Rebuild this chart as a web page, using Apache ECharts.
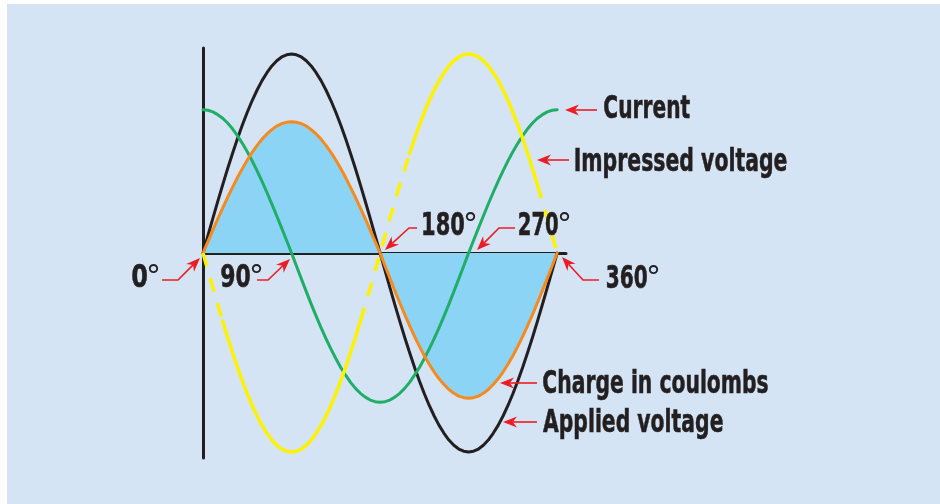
<!DOCTYPE html>
<html><head><meta charset="utf-8">
<script src="https://cdn.jsdelivr.net/npm/echarts@6/dist/echarts.min.js"></script>
<style>html,body{margin:0;padding:0;background:#fff}#c{width:940px;height:504px}</style>
</head><body><div id="c"></div>
<script>
const degrees = Array.from({length:73}, (_, i) => i*5);
const appliedVoltage = [0,.087,.174,.259,.342,.423,.5,.574,.643,.707,.766,.819,.866,.906,.94,.966,.985,.996,1,
  .996,.985,.966,.94,.906,.866,.819,.766,.707,.643,.574,.5,.423,.342,.259,.174,.087,0,
  -.087,-.174,-.259,-.342,-.423,-.5,-.574,-.643,-.707,-.766,-.819,-.866,-.906,-.94,-.966,-.985,-.996,-1,
  -.996,-.985,-.966,-.94,-.906,-.866,-.819,-.766,-.707,-.643,-.574,-.5,-.423,-.342,-.259,-.174,-.087,0];
const chargeCoulombs = [0,.057,.115,.171,.226,.279,.33,.379,.424,.467,.506,.541,.572,.598,.62,.638,.65,.657,.66,
  .657,.65,.638,.62,.598,.572,.541,.506,.467,.424,.379,.33,.279,.226,.171,.115,.057,0,
  -.064,-.127,-.189,-.25,-.309,-.365,-.419,-.469,-.516,-.559,-.598,-.632,-.661,-.686,-.705,-.719,-.727,-.73,
  -.727,-.719,-.705,-.686,-.661,-.632,-.598,-.559,-.516,-.469,-.419,-.365,-.309,-.25,-.189,-.127,-.064,0];
const current = [.72,.717,.709,.695,.677,.653,.624,.59,.551,.509,.463,.413,.36,.304,.246,.186,.125,.063,0,
  -.065,-.13,-.194,-.257,-.317,-.375,-.43,-.482,-.53,-.575,-.614,-.65,-.68,-.705,-.724,-.739,-.747,-.75,
  -.747,-.739,-.724,-.705,-.68,-.65,-.614,-.575,-.53,-.482,-.43,-.375,-.317,-.257,-.194,-.13,-.065,0,
  .063,.125,.186,.246,.304,.36,.413,.463,.509,.551,.59,.624,.653,.677,.695,.709,.717,.72];
const impressedVoltage = [0,-.087,-.174,-.259,-.342,-.423,-.5,-.574,-.643,-.707,-.766,-.819,-.866,-.906,-.94,-.966,-.985,-.996,-1,
  -.996,-.985,-.966,-.94,-.906,-.866,-.819,-.766,-.707,-.643,-.574,-.5,-.423,-.342,-.259,-.174,-.087,0,
  .087,.174,.259,.342,.423,.5,.574,.643,.707,.766,.819,.866,.906,.94,.966,.985,.996,1,
  .996,.985,.966,.94,.906,.866,.819,.766,.707,.643,.574,.5,.423,.342,.259,.174,.087,0];
const impressedDashedRanges = [[0,20],[160,210],[340,360]];
const curveLabels = ['Current','Impressed voltage','Charge in coulombs','Applied voltage'];
const angleLabels = ['0','90','180','270','360'];

// ---- build ----
const C = {bg:'#d4e4f4', black:'#231f20', orange:'#f58a1f', green:'#20ad67', yellow:'#fff200', fill:'#8cd4f5', red:'#ed1c24'};
const chart = echarts.init(document.getElementById('c'), null, {renderer:'canvas'});
const pairs = v => degrees.map((d,i)=>[d, v[i]]);
const inside = d => impressedDashedRanges.some(r => d > r[0] && d < r[1]);
const inClosed = d => impressedDashedRanges.some(r => d >= r[0] && d <= r[1]);
const yellowSolid = degrees.map((d,i)=> inside(d) ? [d,null] : [d, impressedVoltage[i]]);
const yellowDashed = degrees.map((d,i)=> inClosed(d) ? [d, impressedVoltage[i]] : [d,null]);

const line = (name, data, color, w, extra) => Object.assign({
  name, type:'line', data, showSymbol:false, smooth:false, connectNulls:false, silent:true,
  lineStyle:{color, width:w, join:'round', cap:'round'}, clip:false
}, extra||{});

// text helpers
const mctx = document.createElement('canvas').getContext('2d');
const FONT = 'bold 32px "DejaVu Sans"';
const DEGFONT = 'normal 30px "DejaVu Sans"';
function textEl(text, left, right, capTop){
  mctx.font = FONT;
  const m = mctx.measureText(text);
  const ink = m.actualBoundingBoxLeft + m.actualBoundingBoxRight;
  const s = (right-left)/ink;
  return {type:'text', x: left + m.actualBoundingBoxLeft*s, y: capTop + 11.5, scaleX: s, scaleY: 1, z: 100,
    style:{text, font: FONT, fill: C.black, stroke: C.black, lineWidth: 0.6,
      textAlign:'left', align:'left', textVerticalAlign:'middle', verticalAlign:'middle'}};
}
function degEl(left, capTop){
  mctx.font = DEGFONT;
  const m = mctx.measureText('°');
  return {type:'text', x: left + m.actualBoundingBoxLeft, y: capTop + 11.5, z: 100,
    style:{text:'°', font: DEGFONT, fill: C.black, textAlign:'left', align:'left', textVerticalAlign:'middle', verticalAlign:'middle'}};
}
function arrow(pts){
  const n = pts.length, T = pts[n-1], P = pts[n-2];
  const dx = T[0]-P[0], dy = T[1]-P[1], len = Math.hypot(dx,dy);
  const ux = dx/len, uy = dy/len, nx = -uy, ny = ux, L = 14, W = 5.5;
  const back = [T[0]-ux*L*0.7, T[1]-uy*L*0.7];
  const linePts = pts.slice(0,n-1).concat([back]);
  return [
    {type:'polyline', z:100, shape:{points: linePts}, style:{stroke:C.red, lineWidth:1.6, fill:null}},
    {type:'polygon', z:100, shape:{points:[T,[T[0]-ux*L+nx*W, T[1]-uy*L+ny*W], back, [T[0]-ux*L-nx*W, T[1]-uy*L-ny*W]]}, style:{fill:C.red}}
  ];
}

const curveLabelBoxes = [[604,690,98],[575,787,151],[543,768,373],[543,723,412]];
const angleLabelBoxes = [[132,147,267],[221,250,267],[423,464,215],[519,558,215],[607,647,268]];
const arrows = [
  [[597,110],[565,110]],
  [[569,160],[537,160]],
  [[537,383],[500,383]],
  [[537,422],[503,422]],
  [[162,280],[178,280],[200,258]],
  [[257,280],[268,280],[290,259]],
  [[417,228],[409,228],[385,250]],
  [[515,228],[499,228],[477,250]],
  [[599,280],[583,280],[562,257]]
];

const graphics = [
  {type:'rect', z:-10, shape:{x:0,y:0,width:940,height:4}, style:{fill:'#ffffff'}},
  {type:'rect', z:-10, shape:{x:0,y:0,width:7,height:504}, style:{fill:'#ffffff'}}
];
curveLabels.forEach((t,i)=>{ const b = curveLabelBoxes[i]; graphics.push(textEl(t,b[0],b[1],b[2])); });
angleLabels.forEach((t,i)=>{ const b = angleLabelBoxes[i]; graphics.push(textEl(t,b[0],b[1],b[2])); graphics.push(degEl(b[1]+1,b[2])); });
arrows.forEach(a => arrow(a).forEach(e => graphics.push(e)));

chart.setOption({
  animation:false,
  backgroundColor: C.bg,
  grid:{left:203, top:48, width:363, height:410},
  xAxis:{type:'value', min:0, max:369, axisLine:{onZero:true, lineStyle:{color:C.black, width:3}}, axisTick:{show:false}, axisLabel:{show:false}, splitLine:{show:false}},
  yAxis:{type:'value', min:-1.03, max:1.03, axisLine:{show:true, onZero:false, lineStyle:{color:C.black, width:3}}, axisTick:{show:false}, axisLabel:{show:false}, splitLine:{show:false}},
  series:[
    line('Charge area', pairs(chargeCoulombs), C.orange, 0, {lineStyle:{width:0, opacity:0}, areaStyle:{color:C.fill, opacity:1}, z:1}),
    line('Applied voltage', pairs(appliedVoltage), C.black, 3, {z:3}),
    line('Current', pairs(current), C.green, 3, {z:4}),
    line('Charge in coulombs', pairs(chargeCoulombs), C.orange, 3, {z:5}),
    line('Impressed voltage', yellowSolid, C.yellow, 3.5, {z:6}),
    line('Impressed voltage dashed', yellowDashed, C.yellow, 3.5, {z:6, lineStyle:{color:C.yellow, width:3.5, type:[14,12]}})
  ],
  graphic: graphics
});
</script></body></html>
